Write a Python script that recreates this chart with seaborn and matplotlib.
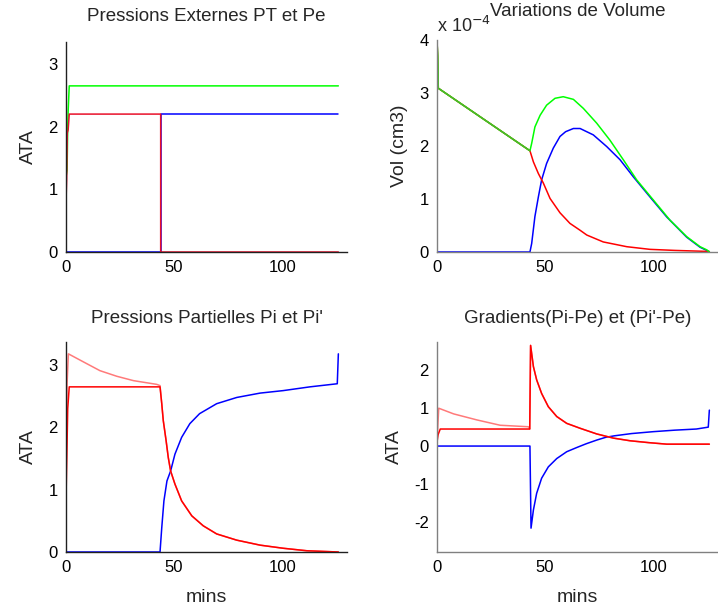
import numpy as np
import matplotlib
matplotlib.use("Agg")
import matplotlib.pyplot as plt
import seaborn as sns
from matplotlib.ticker import FuncFormatter

# -------------------------
# DATA
# -------------------------
# Pressions externes
pt_t = [0, 0.5, 0.8, 1.0, 1.5, 126]
pt_v = [1.2, 1.3, 2.0, 2.25, 2.65, 2.65]
pe_t = [0, 0.3, 0.6, 1.0, 1.5, 43.8, 43.8, 126]
pe_v = [0.8, 1.15, 1.9, 1.95, 2.2, 2.2, 0, 0]
pe2_t = [0, 43.8, 43.8, 126]
pe2_v = [0, 0, 2.2, 2.2]

# Variations de volume (x 1e-4 cm3)
vol_tot_t = [0, 0.3, 0.6, 43.0, 43.8, 45.3, 47.7, 50.7, 54.6, 58.4, 63.1, 67.7,
             73.9, 80.0, 86.2, 92.4, 100.1, 107.8, 115.5, 121.7, 124.8, 126]
vol_tot_v = [4.0, 3.7, 3.09, 1.91, 2.05, 2.36, 2.58, 2.77, 2.90, 2.93, 2.88, 2.71,
             2.43, 2.11, 1.74, 1.36, 0.98, 0.60, 0.29, 0.10, 0.04, 0.0]
vol_a_t = [0, 0.3, 0.6, 43.0, 44.6, 46.9, 49.2, 52.3, 56.9, 61.5, 66.2, 69.3,
           76.9, 87.8, 98.5, 110, 126]
vol_a_v = [4.0, 3.7, 3.09, 1.91, 1.70, 1.48, 1.30, 1.01, 0.74, 0.54, 0.41, 0.32,
           0.19, 0.10, 0.05, 0.03, 0.01]
vol_b_t = [0, 43.0, 43.8, 45.3, 46.9, 48.4, 50.7, 53.8, 56.9, 59.5, 63.1, 66.2,
           72.3, 78.5, 84.7, 90.8, 98.5, 106.3, 115.5, 121.7, 124.8, 126]
vol_b_v = [0, 0, 0.16, 0.67, 1.04, 1.36, 1.67, 1.96, 2.18, 2.27, 2.33, 2.33,
           2.21, 1.99, 1.74, 1.42, 1.04, 0.66, 0.28, 0.09, 0.03, 0]
vol_scale = 1e-4

# Pressions partielles
pp_tail_t = [44.3, 45.0, 46.3, 47.3, 48.4, 50.4, 53.5, 58.2, 63.5, 69.7, 79.0,
             89.8, 100.5, 111.4, 126]
pp_tail_v = [2.38, 2.11, 1.79, 1.52, 1.30, 1.09, 0.82, 0.58, 0.42, 0.29, 0.19,
             0.11, 0.06, 0.02, 0.0]
pi2_t = [0, 0.5, 1.1, 8.1, 15.7, 23.5, 31.2, 42.0, 43.5] + pp_tail_t
pi2_v = [0.88, 2.7, 3.18, 3.05, 2.91, 2.82, 2.75, 2.69, 2.67] + pp_tail_v
pi_t = [0, 0.3, 0.8, 1.5, 43.5] + pp_tail_t
pi_v = [0.85, 1.4, 2.3, 2.65, 2.65] + pp_tail_v
pib_t = [0, 43.5, 44.3, 45.3, 46.7, 48.4, 50.4, 53.5, 57.3, 61.8, 69.7, 79.0,
         89.8, 100.5, 112.8, 125.5, 126]
pib_v = [0, 0, 0.39, 0.82, 1.14, 1.30, 1.57, 1.84, 2.06, 2.22, 2.38, 2.48,
         2.55, 2.59, 2.65, 2.70, 3.18]

# Gradients
gr_tail_t = [43.3, 44.6, 46.1, 48.4, 51.5, 55.4, 60.0, 66.2, 73.9, 81.6, 89.3,
             98, 106.3, 126]
gr_tail_v = [2.66, 2.10, 1.75, 1.39, 1.04, 0.78, 0.60, 0.47, 0.32, 0.21, 0.14,
             0.09, 0.05, 0.05]
g2_t = [0, 0.8, 7.7, 18.5, 29.2, 42.3, 42.9] + gr_tail_t
g2_v = [0.1, 1.0, 0.85, 0.69, 0.55, 0.51, 0.45] + gr_tail_v
g1_t = [0, 0.5, 1.5, 42.9] + gr_tail_t
g1_v = [0.1, 0.3, 0.45, 0.45] + gr_tail_v
gb_t = [0, 43.0, 43.5, 44.6, 46.1, 48.4, 51.5, 55.4, 60.0, 64.6, 69.0, 74.0,
        78.0, 82.0, 90.0, 100.0, 110.0, 120.0, 125.5, 126]
gb_v = [0, 0, -2.17, -1.69, -1.25, -0.85, -0.55, -0.33, -0.15, -0.04, 0.06,
        0.16, 0.23, 0.27, 0.33, 0.38, 0.42, 0.45, 0.50, 0.95]

RED = "#ff0000"
LRED = "#ff7a7a"
BLUE = "#0000ff"
GREEN = "#00ff00"

# -------------------------
# STYLE
# -------------------------
sns.set_style("white")
plt.rcParams['font.family'] = ['Liberation Sans', 'DejaVu Sans']
plt.rcParams['xtick.direction'] = 'in'
plt.rcParams['ytick.direction'] = 'in'

fig = plt.figure(figsize=(7.18, 6.08), dpi=100)
W, H = 718, 608


def make_ax(x0, y_top, x1, y_bot):
    return fig.add_axes([x0 / W, 1 - y_bot / H, (x1 - x0) / W, (y_bot - y_top) / H])


ax1 = make_ax(66, 42, 347, 252)
ax2 = make_ax(437, 40, 718, 252)
ax3 = make_ax(66, 342, 347, 552)
ax4 = make_ax(437, 342, 718, 552)


def line(ax, t, v, color, scale=1.0):
    sns.lineplot(x=t, y=np.array(v) * scale, ax=ax, color=color, lw=1.1,
                 estimator=None, sort=False)


def style(ax, spine_col):
    for s in ['top', 'right']:
        ax.spines[s].set_visible(False)
    for s in ['left', 'bottom']:
        ax.spines[s].set_color(spine_col)
        ax.spines[s].set_linewidth(1.0)
    ax.tick_params(labelsize=12, length=4, width=1, colors='#202020',
                   labelcolor='black', pad=6)
    ax.set_xlim(0, 130)
    ax.set_xticks([0, 50, 100])


# -------------------------
# 1. Pressions Externes
# -------------------------
line(ax1, pe2_t, pe2_v, BLUE)
line(ax1, pt_t, pt_v, GREEN)
line(ax1, pe_t, pe_v, "#e8102a")
style(ax1, '#202020')
ax1.set_ylim(0, 3.35)
ax1.set_yticks([0, 1, 2, 3])
ax1.set_ylabel("ATA", fontsize=14, labelpad=8)
ax1.set_title("Pressions Externes PT et Pe", fontsize=13.5, pad=15)

# -------------------------
# 2. Variations de Volume
# -------------------------
line(ax2, vol_b_t, vol_b_v, BLUE, vol_scale)
line(ax2, vol_a_t, vol_a_v, RED, vol_scale)
line(ax2, vol_tot_t, vol_tot_v, GREEN, vol_scale)
line(ax2, vol_tot_t[:4], vol_tot_v[:4], "#4cb828", vol_scale)
style(ax2, '#808080')
ax2.set_ylim(0, 4e-4)
ax2.set_yticks([0, 1e-4, 2e-4, 3e-4, 4e-4])
ax2.yaxis.set_major_formatter(FuncFormatter(lambda v, _: f"{v / vol_scale:g}"))
ax2.set_ylabel("Vol (cm3)", fontsize=14, labelpad=8)
ax2.set_title("Variations de Volume", fontsize=13.5, pad=17)
ax2.text(0.0, 1.02, r"x 10$^{-4}$", transform=ax2.transAxes, fontsize=13,
         ha='left', va='bottom')

# -------------------------
# 3. Pressions Partielles
# -------------------------
line(ax3, pib_t, pib_v, BLUE)
line(ax3, pi2_t, pi2_v, LRED)
line(ax3, pi_t, pi_v, RED)
style(ax3, '#202020')
ax3.set_ylim(0, 3.37)
ax3.set_yticks([0, 1, 2, 3])
ax3.set_ylabel("ATA", fontsize=14, labelpad=8)
ax3.set_xlabel("mins", fontsize=14, labelpad=10)
ax3.set_title("Pressions Partielles Pi et Pi'", fontsize=13.5, pad=14)

# -------------------------
# 4. Gradients
# -------------------------
line(ax4, gb_t, gb_v, BLUE)
line(ax4, g2_t, g2_v, LRED)
line(ax4, g1_t, g1_v, RED)
style(ax4, '#808080')
ax4.set_ylim(-2.8, 2.75)
ax4.set_yticks([-2, -1, 0, 1, 2])
ax4.yaxis.set_major_formatter(FuncFormatter(lambda v, _: f"{v:g}"))
ax4.set_ylabel("ATA", fontsize=14, labelpad=8)
ax4.set_xlabel("mins", fontsize=14, labelpad=10)
ax4.set_title("Gradients(Pi-Pe) et (Pi'-Pe)", fontsize=13.5, pad=14)

plt.savefig("out.png", dpi=100)
